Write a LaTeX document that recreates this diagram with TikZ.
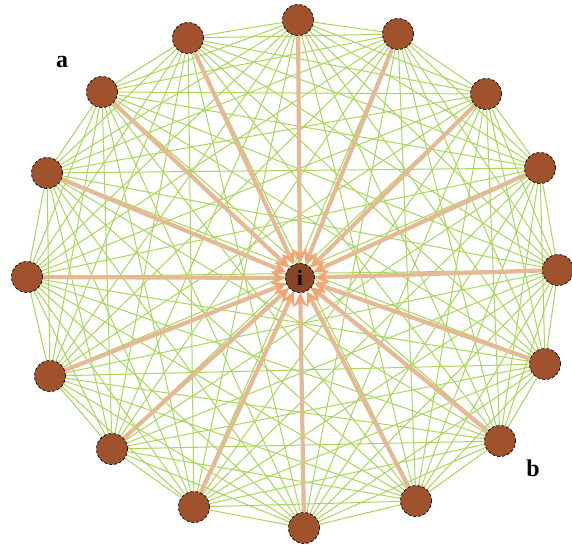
\documentclass[tikz,border=0pt]{standalone}
\usepackage{fontspec}
\setmainfont{Liberation Serif}
\usetikzlibrary{arrows.meta,backgrounds}
\definecolor{nodebrown}{HTML}{A0522D}
\definecolor{edgegreen}{HTML}{A6D65A}
\definecolor{spoketan}{HTML}{E4B994}
\definecolor{tiporange}{HTML}{F2A472}
\tikzset{
  vtx/.style={circle, fill=nodebrown, draw=black, densely dashed, line width=0.7pt, minimum size=31pt, inner sep=0pt},
  hub/.style={circle, fill=nodebrown!85!black, draw=black, densely dashed, line width=0.7pt, minimum size=29pt, inner sep=0pt, font=\bfseries\fontsize{22}{22}\selectfont},
  web/.style={edgegreen, line width=1pt},
  spoke/.style={spoketan, line width=4.2pt, -{Stealth[length=14pt,width=14pt,color=tiporange]}},
  lbl/.style={font=\bfseries\fontsize{24}{24}\selectfont}
}
\begin{document}
\begin{tikzpicture}[x=1pt,y=-1pt]
\useasboundingbox (0,0) rectangle (572,551);
\node[vtx] (n1) at (298,20) {};
\node[vtx] (n2) at (398,34) {};
\node[vtx] (n3) at (486,94) {};
\node[vtx] (n4) at (540,168) {};
\node[vtx] (n5) at (558,270) {};
\node[vtx] (n6) at (545,364) {};
\node[vtx] (n7) at (500,441) {};
\node[vtx] (n8) at (416,501) {};
\node[vtx] (n9) at (304,528) {};
\node[vtx] (n10) at (194,507) {};
\node[vtx] (n11) at (112,449) {};
\node[vtx] (n12) at (50,376) {};
\node[vtx] (n13) at (27,277) {};
\node[vtx] (n14) at (47,173) {};
\node[vtx] (n15) at (102,92) {};
\node[vtx] (n16) at (188,38) {};
\node[hub] (c) at (300,278) {i};
\node[lbl] (la) at (62,62) {a};
\node[lbl] (lb) at (533,468) {b};
\begin{pgfonlayer}{background}
\foreach \i in {1,...,15}{
  \pgfmathtruncatemacro\k{\i+1}
  \foreach \j in {\k,...,16}{
    \draw[web] (n\i) -- (n\j);
  }
}
\foreach \i in {1,...,16}{
  \draw[spoke] (n\i) -- (c);
}
\end{pgfonlayer}
\end{tikzpicture}
\end{document}
